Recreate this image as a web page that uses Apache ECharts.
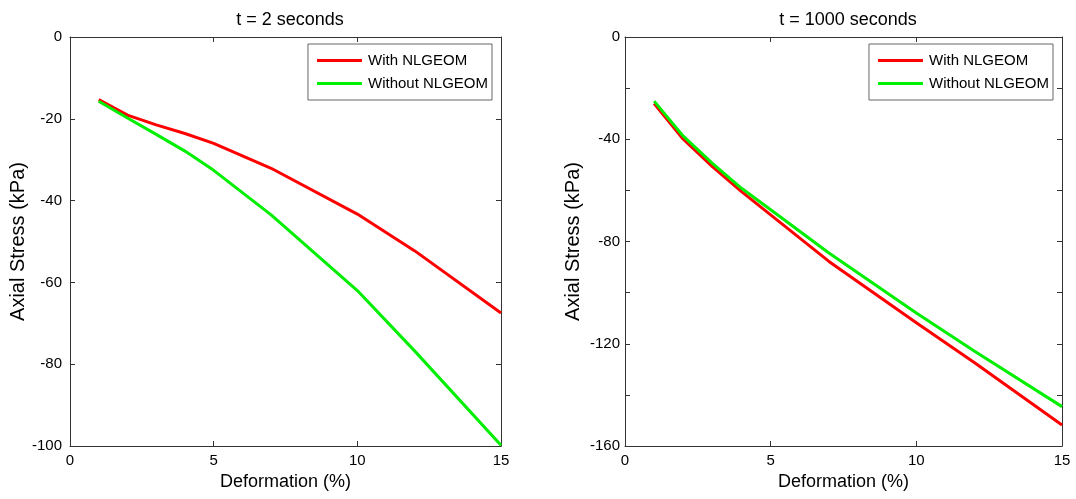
<!DOCTYPE html>
<html><head><meta charset="utf-8">
<script src="https://cdn.jsdelivr.net/npm/echarts@6/dist/echarts.min.js"></script>
<style>html,body{margin:0;padding:0;background:#fff}#c{width:1076px;height:499px}</style>
</head><body><div id="c"></div>
<script>
const deformation = [1, 2, 3, 4, 5, 7, 10, 12, 15];
const t2With    = [-15.3, -19.1, -21.5, -23.6, -26.0, -32.1, -43.3, -52.3, -67.5];
const t2Without = [-15.7, -19.8, -23.8, -27.9, -32.6, -43.5, -62.0, -76.8, -99.8];
const t1000With    = [-26.0, -40.0, -50.7, -60.5, -69.6, -87.8, -111.8, -127.4, -151.8];
const t1000Without = [-25.1, -38.8, -49.4, -59.2, -67.6, -84.5, -108.0, -122.9, -144.6];
const titles = ['t = 2 seconds', 't = 1000 seconds'];
const seriesNames = ['With NLGEOM', 'Without NLGEOM'];
const yRanges = [{min: -100, max: 0, label: 20}, {min: -160, max: 0, label: 40}];

const FONT = 'Liberation Sans, Arial, sans-serif';
const pair = (xs, ys) => xs.map((x, i) => [x, ys[i]]);
const grids = [
  {left: 70, right: 575, top: 37, bottom: 53},
  {left: 625, right: 14, top: 37, bottom: 53}
];
const lineSt = {onZero: false, lineStyle: {color: '#333', width: 1}};
const tickSt = {show: true, inside: true, length: 5, lineStyle: {color: '#333'}};
const xAxes = [], yAxes = [];
grids.forEach((g, i) => {
  xAxes.push({
    type: 'value', gridIndex: i, min: 0, max: 15, interval: 5, position: 'bottom',
    name: 'Deformation (%)', nameLocation: 'middle', nameGap: 26,
    nameTextStyle: {fontFamily: FONT, fontSize: 18, color: '#000'},
    axisLine: lineSt, axisTick: tickSt,
    axisLabel: {fontFamily: FONT, fontSize: 15, color: '#000', margin: 7},
    splitLine: {show: false}
  });
  xAxes.push({
    type: 'value', gridIndex: i, min: 0, max: 15, interval: 5, position: 'top',
    axisLine: lineSt, axisTick: tickSt,
    axisLabel: {show: false}, splitLine: {show: false}
  });
  const r = yRanges[i];
  yAxes.push({
    type: 'value', gridIndex: i, min: r.min, max: r.max, interval: 20, position: 'left',
    name: 'Axial Stress (kPa)', nameLocation: 'middle', nameGap: 42, nameRotate: 90,
    nameTextStyle: {fontFamily: FONT, fontSize: 20, color: '#000'},
    axisLine: Object.assign({show: true}, lineSt), axisTick: tickSt,
    axisLabel: {fontFamily: FONT, fontSize: 15, color: '#000', margin: i === 0 ? 8 : 5,
      formatter: v => (Math.round(v) % r.label === 0 ? String(v) : '')},
    splitLine: {show: false}
  });
  yAxes.push({
    type: 'value', gridIndex: i, min: r.min, max: r.max, interval: 20, position: 'right',
    axisLine: Object.assign({show: true}, lineSt), axisTick: tickSt,
    axisLabel: {show: false}, splitLine: {show: false}
  });
});
const mk = (name, data, color, gi) => ({
  name, type: 'line', xAxisIndex: gi * 2, yAxisIndex: gi * 2, data,
  symbol: 'none', lineStyle: {color, width: 3}, itemStyle: {color}, animation: false, z: 3
});
const chart = echarts.init(document.getElementById('c'));
chart.setOption({
  backgroundColor: '#fff',
  animation: false,
  title: [
    {text: titles[0], left: 285, top: 6, textAlign: 'center', textStyle: {fontFamily: FONT, fontSize: 18, fontWeight: 'normal', color: '#000'}},
    {text: titles[1], left: 843, top: 6, textAlign: 'center', textStyle: {fontFamily: FONT, fontSize: 18, fontWeight: 'normal', color: '#000'}}
  ],
  legend: [0, 1].map(i => ({
    data: seriesNames, orient: 'vertical', right: i === 0 ? 584 : 23, top: 44,
    borderColor: '#666', borderWidth: 1, borderRadius: 0, backgroundColor: '#fff',
    padding: [9, 4, 9, 9], itemGap: 8, itemWidth: 45, itemHeight: 3, icon: 'rect',
    textStyle: {fontFamily: FONT, fontSize: 15, color: '#000', padding: [0, 0, 0, 1]}, selectedMode: false
  })),
  grid: grids,
  xAxis: xAxes,
  yAxis: yAxes,
  series: [
    mk(seriesNames[0], pair(deformation, t2With), '#ff0000', 0),
    mk(seriesNames[1], pair(deformation, t2Without), '#00ee00', 0),
    mk(seriesNames[0], pair(deformation, t1000With), '#ff0000', 1),
    mk(seriesNames[1], pair(deformation, t1000Without), '#00ee00', 1)
  ]
});
</script></body></html>
